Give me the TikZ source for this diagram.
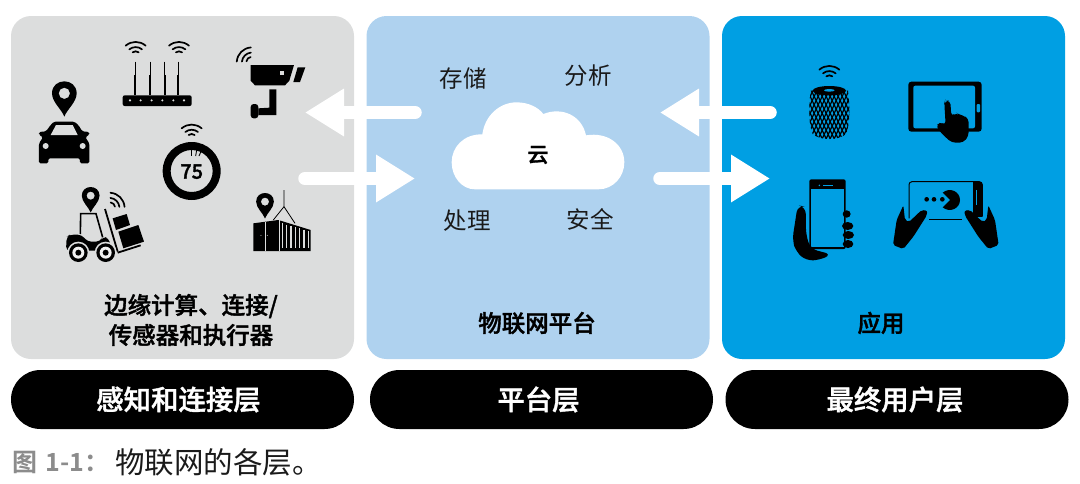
\documentclass[tikz,border=0pt]{standalone}
\usepackage{fontspec}
\setmainfont{Noto Sans CJK SC}[BoldFont={Noto Sans CJK SC Medium},BoldFeatures={FakeBold=1.5}]
\newfontfamily\capfont{Noto Sans CJK SC Bold}
\usepackage{xcolor}
\usetikzlibrary{positioning}
\usetikzlibrary{arrows.meta}
\definecolor{sensegray}{HTML}{DCDDDD}
\definecolor{platblue}{HTML}{AFD2EF}
\definecolor{appblue}{HTML}{009FE3}
\definecolor{capgray}{HTML}{8C8C8C}
\definecolor{inktext}{HTML}{1A1A1A}

\tikzset{
    panel/.style={
        minimum width=343pt,
        minimum height=343pt,
        rounded corners=20pt,
        inner sep=0pt,
        outer sep=0pt},
    pill/.style={
        fill=black,
        text=white,
        minimum width=343pt,
        minimum height=59pt,
        rounded corners=29.5pt,
        inner sep=0pt,
        outer sep=0pt,
        font=\bfseries\fontsize{27.4}{32}\selectfont},
    paneltext/.style={
        align=center,
        inner sep=0pt,
        font=\bfseries\fontsize{23.5}{30}\selectfont},
    cloudtext/.style={
        text=inktext,
        inner sep=0pt,
        font=\fontsize{23.5}{28}\selectfont},
    flow/.style={
        draw=white,
        line width=13.5pt,
        line cap=round,
        -{Triangle[length=39pt,width=45pt]}},
    wifiline/.style={line width=1.7pt, line cap=round},
    wifi/.pic={
        \draw[wifiline] (-30,12) .. controls (-12,-3) and (12,-3) .. (30,12);
        \draw[wifiline] (-19,23) .. controls (-8,14) and (8,14) .. (19,23);
        \draw[wifiline] (-9,32) .. controls (-3,28) and (3,28) .. (9,32);
    },
    locpin/.pic={
        \fill[even odd rule] (0,70) .. controls (-8,48) and (-37,26) .. (-37,0)
            .. controls (-37,-48) and (37,-48) .. (37,0)
            .. controls (37,26) and (8,48) .. (0,70) -- cycle
            (0,0) circle (17);
    }
}

\begin{document}
\begin{tikzpicture}[x=1pt,y=-1pt]
    \useasboundingbox (0,0) rectangle (1080,483);

    \node[panel, fill=sensegray] (sense) at (182.5,187.5) {};
    \node[panel, fill=platblue] (platform) [right=12.5pt of sense] {};
    \node[panel, fill=appblue] (app) [right=12.5pt of platform] {};

    \node[pill] (sensepill) [below=11pt of sense] {\hspace*{-8pt}感知和连接层};
    \node[pill] (platpill) [below=11pt of platform, xshift=3.5pt] {\hspace*{-6pt}平台层};
    \node[pill] (apppill) [below=11pt of app, xshift=3.5pt] {\hspace*{-4pt}最终用户层};

    \node[paneltext] (senselabel) at (191,320) {边缘计算、连接/\\传感器和执行器};
    \node[paneltext] (platlabel) at (537,323) {物联网平台};
    \node[paneltext] (applabel) at (881,323) {应用};

    % cloud
    \fill[white, shift={(290,60)}, x=1/3 pt, y=-1/3 pt] (555,388)
        .. controls (515,388) and (485,350) .. (485,307)
        .. controls (485,262) and (520,222) .. (577,223)
        .. controls (585,165) and (630,127) .. (680,127)
        .. controls (715,127) and (745,142) .. (760,162)
        .. controls (815,140) and (875,165) .. (888,226)
        .. controls (955,215) and (1003,255) .. (1003,307)
        .. controls (1003,350) and (970,388) .. (925,388) -- cycle;
    \node[inner sep=0pt, text=black, font=\bfseries\fontsize{21}{24}\selectfont] (cloud) at (538,155) {云};
    \node[cloudtext] (store) at (463,79) {存储};
    \node[cloudtext] (analyze) at (588,76) {分析};
    \node[cloudtext] (process) at (467,221) {处理};
    \node[cloudtext] (secure) at (590,219) {安全};

    \coordinate (cmdfrom) at (415,112.5);
    \coordinate (cmdto) at (305,112.5);
    \coordinate (datafrom) at (305,178.5);
    \coordinate (datato) at (415,178.5);
    \coordinate (appcmdfrom) at (770,112.5);
    \coordinate (appcmdto) at (660,112.5);
    \coordinate (appdatafrom) at (660,178.5);
    \coordinate (appdatato) at (770,178.5);
    \draw[flow] (cmdfrom) -- (cmdto);
    \draw[flow] (datafrom) -- (datato);
    \draw[flow] (appcmdfrom) -- (appcmdto);
    \draw[flow] (appdatafrom) -- (appdatato);

    % things
    \begin{scope}[shift={(10,10)}, x=1/3 pt, y=-1/3 pt]
        % car
        \pic at (163,250) {locpin};
        \fill[rounded corners=1.5pt] (122,345) -- (132,335) -- (193,335) -- (205,345) -- (217,364) -- (238,366) -- (238,374) -- (226,382)
            -- (238,400) -- (238,460) -- (210,460) -- (210,445) -- (115,445) -- (115,460) -- (87,460) -- (87,400)
            -- (99,382) -- (87,374) -- (87,366) -- (108,364) -- cycle;
        \fill[sensegray] (138,345) -- (188,345) -- (203,375) -- (122,375) -- cycle;
        \fill[sensegray] (107,408) circle (9) (218,408) circle (9);
        % router
        \pic at (377,95) {wifi};
        \pic at (507,95) {wifi};
        \foreach \x in {376,421,464,505} {
            \draw[line width=1.1pt] (\x,155) -- (\x,200);
            \draw[line width=2.1pt] (\x,195) -- (\x,256);
        }
        \fill[rounded corners=2pt] (338,256) rectangle (545,288);
        \foreach \x in {360,392,425,457,490,522} {
            \fill[sensegray] (\x,271) circle (3.5);
        }
        % camera
        \pic[rotate=45] at (693,125) {wifi};
        \fill (722,165) -- (852,165) -- (838,212) -- (825,226) -- (735,226) -- (722,212) -- cycle;
        \fill[sensegray] (809,183) rectangle (821,194);
        \fill (863,172) -- (886,172) -- (870,216) -- (850,216) -- cycle;
        \fill (778,238) -- (799,238) -- (799,315) -- (745,315) -- (745,295) -- (778,293) -- cycle;
        \fill[rounded corners=3pt] (722,282) -- (745,282) -- (745,325) -- (722,325) -- cycle;
        % thermostat
        \pic at (545,343) {wifi};
        \fill[even odd rule] (545,483) circle (87) (545,483) circle (63);
        \foreach \x/\y in {545/545,560/557,575/567} {
            \draw[line width=.9pt] (\x,420) -- (\y,438);
        }
        \node[inner sep=0pt, font=\bfseries\fontsize{20}{22}\selectfont] (degrees) at (545,485) {75};
        % forklift
        \pic[scale=.72] at (242,557) {locpin};
        \pic[rotate=-45] at (331,561) {wifi};
        \draw[line width=1.6pt] (211,672) -- (212,611) -- (258,611) -- (278,682);
        \fill[rounded corners=4pt] (168,722) -- (170,680) -- (180,674) -- (215,674) -- (232,695) -- (270,695) -- (278,680) -- (296,684) -- (306,722) -- cycle;
        \draw[line width=1.8pt] (285,597) -- (323,725);
        \draw[line width=1.8pt] (323,728) -- (392,706);
        \fill (308,625) -- (350,612) -- (360,645) -- (318,660) -- cycle;
        \fill (325,665) -- (385,645) -- (402,695) -- (340,715) -- cycle;
        \foreach \x in {205,287} {
            \fill[sensegray] (\x,728) circle (33);
            \fill (\x,728) circle (28);
            \fill[white!60!sensegray] (\x,728) circle (18);
            \fill (\x,728) circle (9);
        }
        % container
        \pic[scale=.72] at (765,575) {locpin};
        \draw[line width=.8pt] (822,540) -- (822,590) -- (790,630);
        \draw[line width=.8pt] (822,590) -- (855,640);
        \fill (730,640) -- (805,630) -- (902,660) -- (902,723) -- (730,723) -- cycle;
        \draw[sensegray, line width=.5pt] (765,636) -- (765,723);
        \draw[sensegray, line width=.5pt] (808,631) -- (808,723);
        \fill[sensegray] (753,676) circle (1.5) (772,676) circle (1.5);
        \foreach \x in {817,830,...,895} {
            \draw[sensegray, line width=1.1pt] (\x,{636+(\x-805)*.3}) -- (\x,715);
        }
    \end{scope}

    % apps
    \begin{scope}[shift={(780,50)}, x=1/3 pt, y=-1/3 pt]
        % speaker
        \pic at (148,47) {wifi};
        \begin{scope}
            \clip (92,122) .. controls (86,170) and (86,225) .. (98,252)
                .. controls (120,272) and (176,272) .. (198,252)
                .. controls (210,225) and (210,170) .. (204,122) -- cycle;
            \foreach \d in {-180,-168,...,220} {
                \draw[line width=1.2pt] (\d,100) -- (\d+85,280);
                \draw[line width=1.2pt] (\d+85,100) -- (\d,280);
            }
        \end{scope}
        \fill (148,122) ellipse (50 and 14);
        \fill[appblue] (148,121) ellipse (16 and 4);
        % tablet
        \fill[rounded corners=3pt] (385,95) rectangle (605,245);
        \fill[appblue, rounded corners=2pt] (400,107) rectangle (585,235);
        \fill[appblue, rounded corners=1pt] (590,162) rectangle (600,187);
        \fill[rounded corners=4pt] (493,160) -- (495,152) -- (511,152) -- (514,200) -- (528,188) -- (538,194) -- (549,197) -- (566,205)
            -- (566,258) -- (550,278) -- (515,278) -- (497,262) -- (468,232) -- (478,214) -- (497,226) -- cycle;
        % phone
        \fill[rounded corners=2pt] (88,388) rectangle (197,597);
        \fill[appblue] (93,418) rectangle (192,592);
        \fill[appblue] (118,406) circle (2.5);
        \fill[appblue] (128,404) rectangle (158,408);
        \fill[rounded corners=7pt] (53,466) -- (77,470) -- (78,555) -- (92,597) -- (155,613) -- (120,630) -- (78,632)
            -- (48,605) -- (37,570) -- cycle;
        \fill (200,492) ellipse (12 and 11);
        \fill (203,528) ellipse (17 and 12);
        \fill (205,555) ellipse (17 and 12);
        \fill (204,582) ellipse (16 and 12);
        % game
        \draw[line width=1pt, rounded corners=3pt] (387,505) -- (387,395) -- (607,395) -- (607,500);
        \fill (580,395) rectangle (607,500);
        \draw[appblue, line width=.8pt] (589,420) -- (589,465);
        \draw[line width=.8pt] (447,507) -- (547,507);
        \fill (510,450) -- (488,428) .. controls (510,410) and (540,425) .. (540,450)
            .. controls (540,475) and (510,490) .. (488,472) -- cycle;
        \fill (440,448) circle (7) (462,448) circle (7) (487,448) circle (7);
        \fill[rounded corners=2pt] (339,585) -- (350,510) -- (370,466) -- (375,510) -- (387,516) -- (425,480) -- (442,482)
            -- (440,497) -- (400,560) -- (370,597) -- cycle;
        \fill[rounded corners=2pt] (656,585) -- (645,510) -- (625,466) -- (620,510) -- (608,516) -- (570,480) -- (553,482)
            -- (555,497) -- (595,560) -- (625,597) -- cycle;
    \end{scope}

    % caption
    \node[anchor=west, inner sep=0pt, text=capgray, font=\capfont\fontsize{25}{30}\selectfont] (figno) at (12,462) {图\,\,1-1：};
    \node[anchor=west, inner sep=0pt, text=inktext, font=\fontsize{29.5}{32}\selectfont] (figtext) at (115,462) {物联网的各层。};
\end{tikzpicture}
\end{document}
